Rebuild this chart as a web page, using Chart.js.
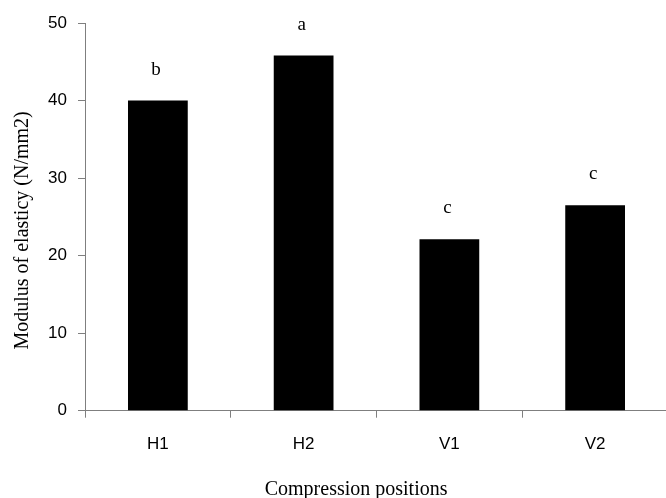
<!DOCTYPE html>
<html>
<head>
<meta charset="utf-8">
<script src="https://cdn.jsdelivr.net/npm/chart.js@4"></script>
<style>
  html, body { margin: 0; padding: 0; overflow: hidden; background: #fff; }
  #wrap { width: 668px; height: 498px; }
</style>
</head>
<body>
<div id="wrap"><canvas id="chart"></canvas></div>
<script>
// data
const positions = ['H1', 'H2', 'V1', 'V2'];
const modulus = [40, 45.8, 22.1, 26.5];
const groupLetters = ['b', 'a', 'c', 'c'];
const xTitle = 'Compression positions';
const yTitle = 'Modulus of elasticy (N/mm2)';

const axisGrey = '#7f7f7f';
const serif = '"Liberation Serif", "Times New Roman", serif';
const sans = '"Liberation Sans", Arial, sans-serif';

// letters above bars + axis titles (the originals sit a bit off-centre)
const annotPlugin = {
  id: 'annot',
  afterDraw(chart) {
    const ctx = chart.ctx;
    const area = chart.chartArea;
    const meta = chart.getDatasetMeta(0);
    ctx.save();
    ctx.fillStyle = '#000';
    ctx.textAlign = 'center';
    ctx.textBaseline = 'alphabetic';
    ctx.font = '19px ' + serif;
    meta.data.forEach((bar, i) => {
      ctx.fillText(groupLetters[i], bar.x - 2, bar.y - 26);
    });

    ctx.font = '20px ' + serif;
    ctx.fillText(xTitle, area.left + (area.right - area.left) * 0.465, 495);

    ctx.translate(28, area.top + (area.bottom - area.top) * 0.535);
    ctx.rotate(-Math.PI / 2);
    ctx.fillText(yTitle, 0, 0);
    ctx.restore();
  }
};

new Chart(document.getElementById('chart'), {
  type: 'bar',
  data: {
    labels: positions,
    datasets: [{
      data: modulus,
      backgroundColor: '#000',
      borderWidth: 0,
      categoryPercentage: 1,
      barPercentage: 0.41
    }]
  },
  options: {
    responsive: true,
    maintainAspectRatio: false,
    animation: false,
    layout: { padding: { top: 23, left: 0, right: 0, bottom: 0 } },
    plugins: {
      legend: { display: false },
      tooltip: { enabled: false }
    },
    scales: {
      x: {
        afterFit: (scale) => { scale.height = 87.3; },
        grid: {
          offset: true,
          drawOnChartArea: false,
          drawTicks: true,
          tickLength: 7,
          color: axisGrey
        },
        border: { color: axisGrey, width: 1 },
        ticks: {
          color: '#000',
          padding: 16,
          font: { family: sans, size: 17 }
        }
      },
      y: {
        min: 0,
        max: 50,
        afterFit: (scale) => { scale.width = 85; },
        grid: {
          drawOnChartArea: false,
          drawTicks: true,
          tickLength: 7,
          color: axisGrey
        },
        border: { color: axisGrey, width: 1 },
        ticks: {
          stepSize: 10,
          color: '#000',
          padding: 11,
          font: { family: sans, size: 17 }
        }
      }
    }
  },
  plugins: [annotPlugin]
});
</script>
</body>
</html>
